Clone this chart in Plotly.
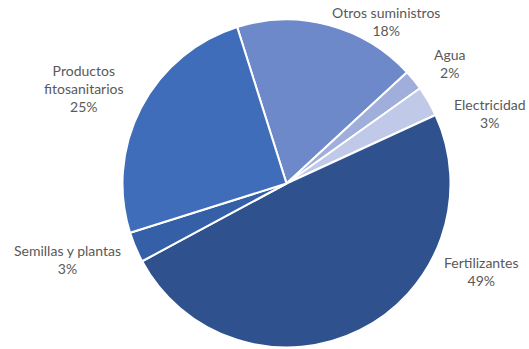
import plotly.graph_objects as go

labels = ["Otros suministros", "Agua", "Electricidad", "Fertilizantes",
          "Semillas y plantas", "Productos<br>fitosanitarios"]
values = [18, 2, 3, 49, 3, 25]
colors = ["#6D89C9", "#A0AEDB", "#C0CAE8", "#2F528F", "#3560A8", "#3F6DB9"]

# label centre positions (pixels in 529x349 canvas)
label_pos = [(386, 22), (450, 64), (490, 113), (481, 271), (67, 259), (84, 89)]

W, H = 529, 349
fig = go.Figure(go.Pie(
    labels=labels, values=values, sort=False, direction="clockwise",
    rotation=-17.5, textinfo="none", hoverinfo="label+percent",
    marker=dict(colors=colors, line=dict(color="white", width=2)),
    domain=dict(x=[(286.5 - 164) / W, (286.5 + 164) / W],
                y=[(H - 183.5 - 164) / H, (H - 183.5 + 164) / H]),
    showlegend=False,
))

total = sum(values)
for lab, v, (px, py) in zip(labels, values, label_pos):
    fig.add_annotation(
        x=px / W, y=1 - py / H, xref="paper", yref="paper",
        text=f"{lab}<br>{round(100 * v / total)}%", showarrow=False,
        font=dict(family="Lato", size=14, color="#595959"),
        xanchor="center", yanchor="middle", align="center",
    )

fig.update_layout(width=W, height=H, margin=dict(l=0, r=0, t=0, b=0),
                  paper_bgcolor="white", plot_bgcolor="white")
fig.write_html("out.html", config={"displayModeBar": False},
               post_script="document.body.style.margin='0';document.body.style.overflow='hidden';")
